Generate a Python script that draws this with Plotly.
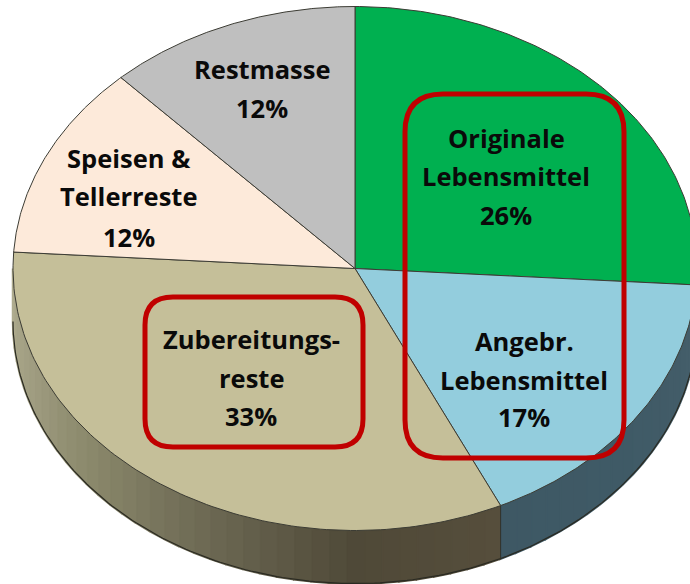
import numpy as np
import plotly.graph_objects as go

categories = ["Originale Lebensmittel", "Angebr. Lebensmittel", "Zubereitungsreste", "Speisen & Tellerreste", "Restmasse"]
values = [26, 17, 33, 12, 12]
colors = ["#00b050", "#93cddd", "#c5bf99", "#fdeada", "#bfbfbf"]

label_lines = [
    ["Originale", "Lebensmittel", "26%"],
    ["Angebr.", "Lebensmittel", "17%"],
    ["Zubereitungs-", "reste", "33%"],
    ["Speisen &", "Tellerreste", "12%"],
    ["Restmasse", "12%"],
]
label_x = [506, 524, 251, 129, 262]
label_y = [[138, 176, 215], [341, 380, 417], [339, 378, 416], [158, 196, 237], [69, 108]]

W, H = 690, 584
CX, CY, RX, RY, DEPTH = 355, 268.5, 342, 262, 53

def px(t):
    return CX + RX * np.sin(np.radians(t))

def py(t, d=0):
    return CY - RY * np.cos(np.radians(t)) + d

def hex2rgb(h):
    return np.array([int(h[i:i + 2], 16) for i in (1, 3, 5)], float)

side_stops = {
    1: ([88, 110, 130, 155], ["#48626e", "#425c68", "#3f5a66", "#3e5864"]),
    2: ([155, 180, 205, 230, 250, 270], ["#564e3c", "#4f4938", "#6c6853", "#8a886b", "#9f9c80", "#b0ad90"]),
}

fig = go.Figure()
edges = np.cumsum([0] + values) * 3.6

# extruded rim, drawn as thin strips in the visible lower half
for idx, (ts, cs) in side_stops.items():
    start = max(edges[idx], 90)
    stop = min(edges[idx + 1], 270)
    if idx == 1:
        start = 88
    grid = np.linspace(start, stop, int((stop - start) / 3) + 2)
    rgb = np.array([hex2rgb(c) for c in cs])
    for a, b in zip(grid[:-1], grid[1:]):
        m = (a + b) / 2
        c = [np.interp(m, ts, rgb[:, k]) for k in range(3)]
        col = f"rgb({c[0]:.0f},{c[1]:.0f},{c[2]:.0f})"
        tt = np.linspace(a, b, 4)
        xs = np.r_[px(tt), px(tt[::-1])]
        ys = np.r_[py(tt), py(tt[::-1], DEPTH)]
        fig.add_trace(go.Scatter(x=xs, y=ys, mode="lines", fill="toself", fillcolor=col,
                                 line=dict(color=col, width=2.5), hoverinfo="skip", showlegend=False))

# dark lower outline of the rim and slice divider on the rim
tt = np.linspace(88, 270, 200)
fig.add_trace(go.Scatter(x=px(tt), y=py(tt, DEPTH), mode="lines", line=dict(color="#2a2a22", width=1.2),
                         hoverinfo="skip", showlegend=False))
fig.add_trace(go.Scatter(x=[px(edges[2])] * 2, y=[py(edges[2]), py(edges[2], DEPTH)], mode="lines",
                         line=dict(color="#2a2a22", width=0.8), hoverinfo="skip", showlegend=False))

# top face slices
for i, (name, col) in enumerate(zip(categories, colors)):
    tt = np.linspace(edges[i], edges[i + 1], 120)
    fig.add_trace(go.Scatter(x=np.r_[CX, px(tt), CX], y=np.r_[CY, py(tt), CY], mode="lines", fill="toself",
                             fillcolor=col, line=dict(color="#3c3c34", width=1), name=name,
                             hoverinfo="name", showlegend=False))

# labels
for lines, x, ys in zip(label_lines, label_x, label_y):
    for line, y in zip(lines, ys):
        fig.add_annotation(x=x, y=y, text=line, showarrow=False, xanchor="center", yanchor="middle",
                           font=dict(family="Open Sans", size=25.5, weight=700, color="#0a0a0a"))

def rounded(x0, y0, x1, y1, r):
    return (f"M{x0 + r},{y0} L{x1 - r},{y0} Q{x1},{y0} {x1},{y0 + r} L{x1},{y1 - r} Q{x1},{y1} {x1 - r},{y1} "
            f"L{x0 + r},{y1} Q{x0},{y1} {x0},{y1 - r} L{x0},{y0 + r} Q{x0},{y0} {x0 + r},{y0} Z")

for box, r in (((405, 94, 624, 458), 38), ((145, 297, 363, 447), 28)):
    fig.add_shape(type="path", path=rounded(*box, r), line=dict(color="#c00000", width=5), xref="x", yref="y")

fig.update_layout(
    width=W, height=H, margin=dict(l=0, r=0, t=0, b=0), autosize=False,
    paper_bgcolor="white", plot_bgcolor="white", showlegend=False,
    xaxis=dict(range=[0, W], visible=False, fixedrange=True),
    yaxis=dict(range=[H, 0], visible=False, fixedrange=True),
)
fig.write_html("out.html", config={"displayModeBar": False},
               post_script="document.body.style.margin='0';document.body.style.overflow='hidden';")
